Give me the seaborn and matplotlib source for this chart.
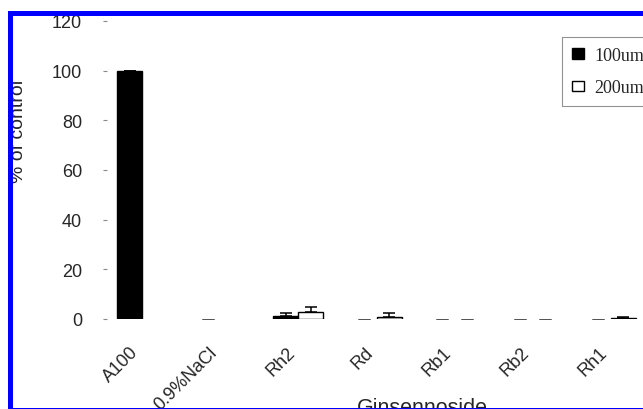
import numpy as np
import pandas as pd
import matplotlib
matplotlib.use('Agg')
import matplotlib.pyplot as plt
import seaborn as sns
from matplotlib.patches import Patch
from matplotlib.lines import Line2D
from matplotlib.ticker import FixedLocator

# values
compounds = ['A100', '0.9%NaCl', 'Rh2', 'Rd', 'Rb1', 'Rb2', 'Rh1']
doses = ['100um', '200um']
val_100 = [100, 0, 1.2, 0, 0, 0, 0]
val_200 = [np.nan, np.nan, 3.0, 0.7, 0, 0, 0.5]
err_100 = [0, 0, 1.2, 0, 0, 0, 0]
err_200 = [np.nan, np.nan, 1.8, 1.6, 0, 0, 0.2]
yticks = [0, 20, 40, 60, 80, 100, 120]

df = pd.DataFrame({
    'compound': compounds * 2,
    'dose': [doses[0]] * len(compounds) + [doses[1]] * len(compounds),
    'value': val_100 + val_200,
})
errs = {doses[0]: err_100, doses[1]: err_200}

sns.set_style('white')
plt.rcParams['font.family'] = ['Liberation Sans', 'DejaVu Sans']

fig = plt.figure(figsize=(6.43, 4.10), dpi=100)
ax = fig.add_axes([103 / 643, 1 - 320 / 410, 547 / 643, 298 / 410])

sns.barplot(data=df, x='compound', y='value', hue='dose', order=compounds,
            hue_order=doses, palette=['black', 'white'], edgecolor='black',
            linewidth=1, width=0.64, errorbar=None, legend=False, ax=ax)

# one-sided error bars on top of each bar
zx, zy = [], []
for cont, dose in zip(ax.containers, doses):
    xs, ys, es = [], [], []
    for p in cont.patches:
        h = p.get_height()
        if np.isnan(h):
            continue
        cx = p.get_x() + p.get_width() / 2
        i = int(round(cx))
        if h == 0:
            p.set_linewidth(0)
            zx.append(cx)
            zy.append(h)
            continue
        xs.append(cx)
        ys.append(h)
        es.append(errs[dose][i])
    ax.errorbar(xs, ys, yerr=[np.zeros(len(es)), es], fmt='none',
                ecolor='black', elinewidth=1.1, capsize=4, capthick=1.1)
# zero bars only show a thin cap on the baseline
ax.errorbar(zx, zy, yerr=[np.zeros(len(zx)), np.zeros(len(zx))], fmt='none',
            ecolor='#555555', elinewidth=0.7, capsize=4, capthick=0.7)

ax.set_xlim(-0.5, len(compounds) - 0.5)
ax.set_ylim(0, 120)
ax.set_yticks(yticks)
for s in ax.spines.values():
    s.set_visible(False)

ax.xaxis.set_minor_locator(FixedLocator(np.arange(1.5, len(compounds), 1)))
ax.tick_params(axis='x', which='major', length=0, pad=17.5, labelsize=13)
ax.tick_params(axis='x', which='minor', direction='in', length=3.5,
               width=0.8, color='#888888')
ax.tick_params(axis='y', direction='in', length=3, width=0.8,
               color='#888888', pad=15, labelsize=13, left=True)
plt.setp(ax.get_xticklabels(), rotation=45, ha='right')

ax.set_xlabel('Ginsennoside', fontsize=15.5)
ax.xaxis.set_label_coords(0.584, -0.262)
ax.set_ylabel('% of control', fontsize=14)
ax.yaxis.set_label_coords(-0.139, 0.634)

handles = [Patch(facecolor='black', edgecolor='black'),
           Patch(facecolor='white', edgecolor='black')]
leg = ax.legend(handles, doses, loc='upper left',
                bbox_to_anchor=(562 / 643, 1 - 38 / 410),
                bbox_transform=fig.transFigure, borderaxespad=0,
                prop={'family': 'Liberation Serif', 'size': 13},
                handlelength=0.65, handleheight=0.5, handletextpad=0.6,
                labelspacing=0.85, borderpad=0.55, fancybox=False)
leg.get_frame().set_edgecolor('#777777')
leg.get_frame().set_linewidth(0.8)

# blue frame around the picture
fl, ft, fb = 9.8 / 643, 1 - 14.3 / 410, 1 - 410.5 / 410
fig.add_artist(Line2D([1.1, fl, fl, 1.1], [ft, ft, fb, fb],
                      transform=fig.transFigure, color='#0000ff',
                      linewidth=3.6, solid_joinstyle='miter', zorder=10))

fig.savefig('out.png', dpi=100)
